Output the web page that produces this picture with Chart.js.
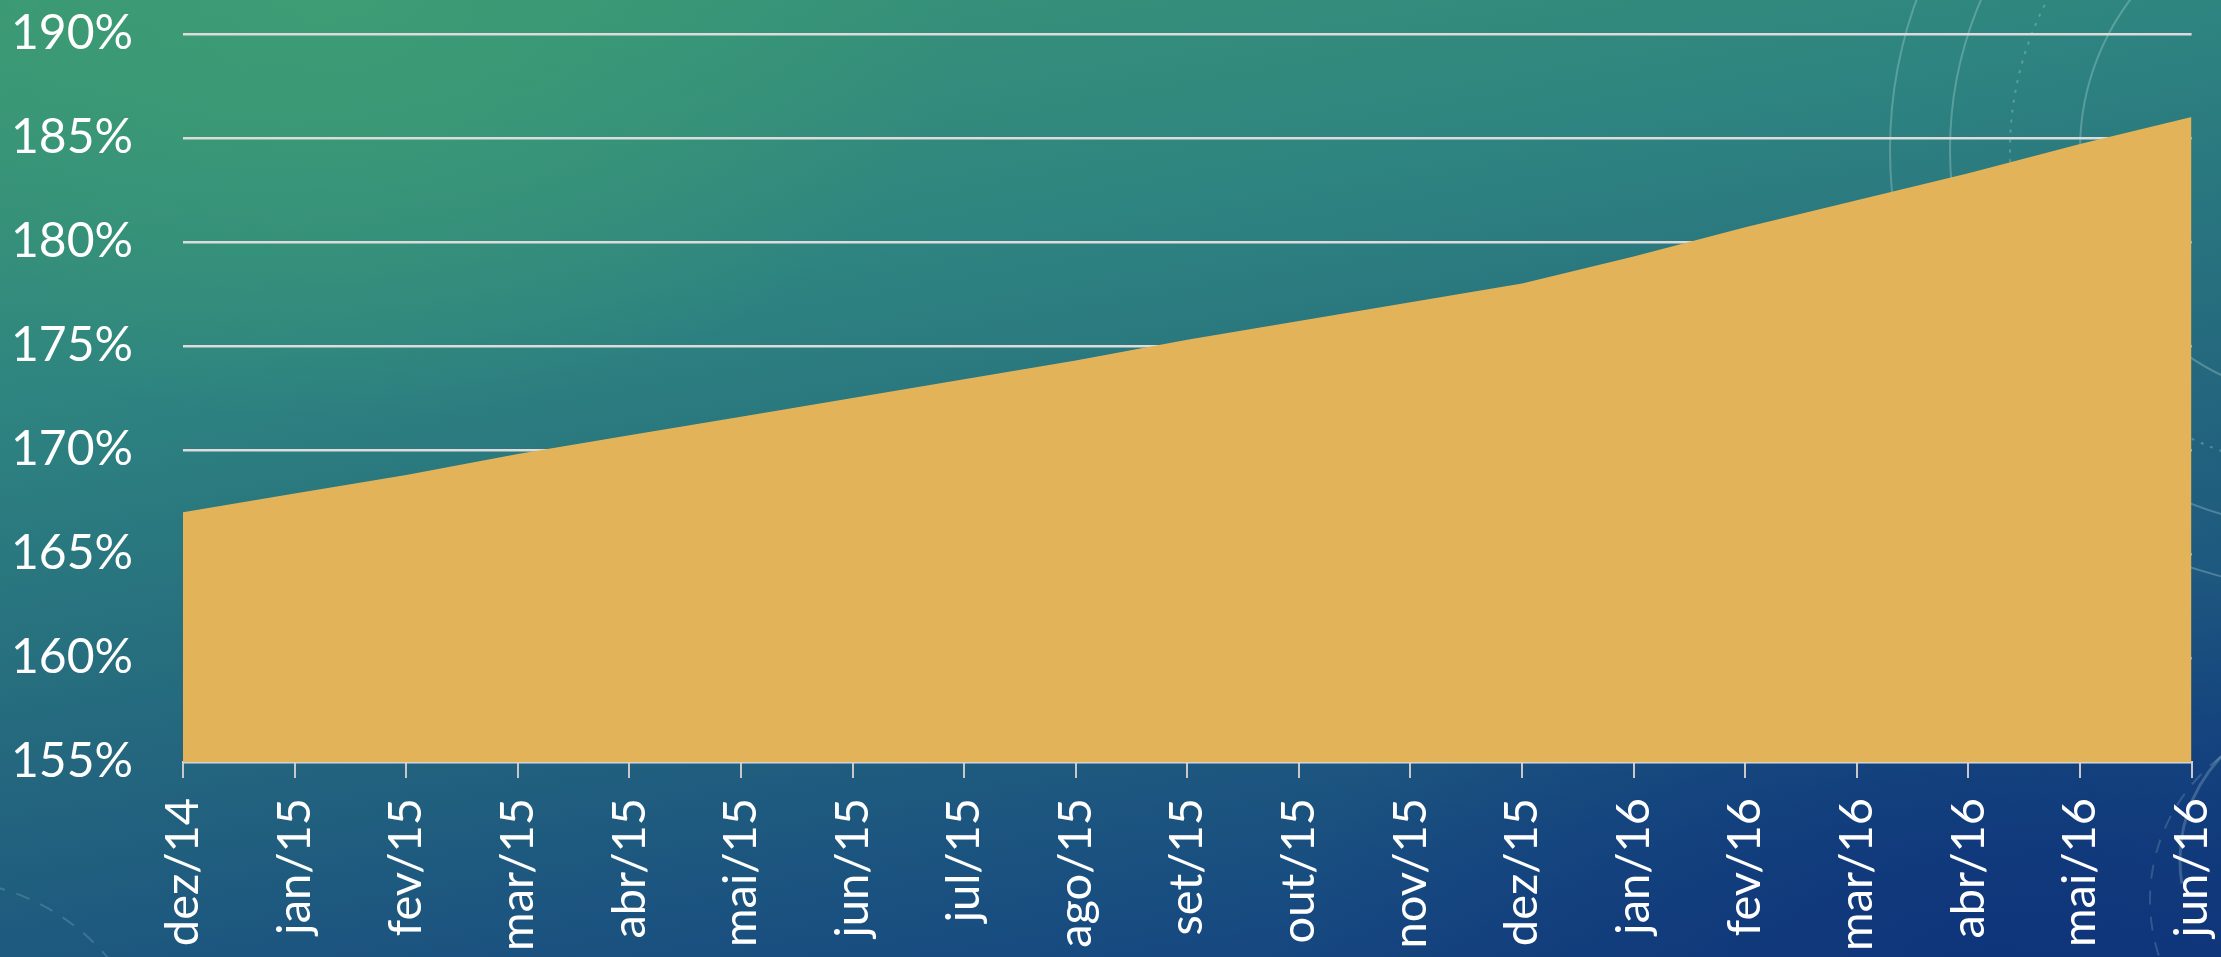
<!DOCTYPE html>
<html>
<head>
<meta charset="utf-8">
<script src="https://cdn.jsdelivr.net/npm/chart.js@4/dist/chart.umd.min.js"></script>
<style>
  html, body { margin: 0; padding: 0; width: 2221px; height: 957px; overflow: hidden; }
  body {
    position: relative;
    background:
      radial-gradient(ellipse 900px 600px at 15% 0%, rgba(62,158,116,0.85), rgba(62,158,116,0) 70%),
      radial-gradient(ellipse 900px 500px at 90% 100%, rgba(14,52,122,0.9), rgba(14,52,122,0) 80%),
      linear-gradient(170deg, #3a9874 0%, #2e8480 30%, #23647e 60%, #174a80 85%, #12397a 100%);
  }
  /* the canvas overhangs the top and right edges so the plot fills the page */
  #wrap { position: absolute; left: 0; top: -45px; width: 2268px; height: 1002px; }
</style>
</head>
<body>
<div id="wrap"><canvas id="c"></canvas></div>
<script>
// Monthly cumulative index, dez/14 to jun/16
const months = ['dez/14','jan/15','fev/15','mar/15','abr/15','mai/15','jun/15','jul/15','ago/15',
                'set/15','out/15','nov/15','dez/15','jan/16','fev/16','mar/16','abr/16','mai/16','jun/16'];
const indexValues = [167.0, 167.9, 168.8, 169.8, 170.7, 171.6, 172.5, 173.4, 174.3,
                     175.3, 176.2, 177.1, 178.0, 179.3, 180.7, 182.0, 183.3, 184.7, 186.0];
const yTicks = [155, 160, 165, 170, 175, 180, 185, 190];

const FONT = 'Lato, "Open Sans", sans-serif';

// faint instrument-style arcs in the upper right of the backdrop (page coordinates)
const arcsPlugin = {
  id: 'arcs',
  beforeDraw(chart) {
    const ctx = chart.ctx;
    ctx.save();
    ctx.translate(0, 45);
    ctx.strokeStyle = 'rgba(210,235,235,0.28)';
    ctx.lineWidth = 2;
    const cx = 2330, cy = 150;
    [440, 380, 250].forEach(r => {
      ctx.beginPath(); ctx.arc(cx, cy, r, Math.PI * 0.5, Math.PI * 1.5); ctx.stroke();
    });
    ctx.setLineDash([3, 7]);
    ctx.beginPath(); ctx.arc(cx, cy, 320, Math.PI * 0.5, Math.PI * 1.5); ctx.stroke();
    ctx.setLineDash([14, 12]);
    ctx.strokeStyle = 'rgba(210,235,235,0.18)';
    ctx.beginPath(); ctx.arc(2330, 900, 180, Math.PI * 0.9, Math.PI * 1.6); ctx.stroke();
    ctx.beginPath(); ctx.arc(-60, 1100, 220, Math.PI * 1.5, Math.PI * 1.95); ctx.stroke();
    ctx.setLineDash([]);
    ctx.lineWidth = 3;
    ctx.strokeStyle = 'rgba(210,235,235,0.22)';
    ctx.beginPath(); ctx.arc(2330, 860, 150, Math.PI * 0.95, Math.PI * 1.5); ctx.stroke();
    ctx.restore();
  }
};

new Chart(document.getElementById('c'), {
  type: 'line',
  data: {
    labels: months,
    datasets: [{
      data: indexValues,
      fill: 'start',
      backgroundColor: '#E3B35A',
      borderWidth: 0,
      borderColor: 'rgba(0,0,0,0)',
      pointRadius: 0,
      tension: 0
    }]
  },
  options: {
    responsive: true,
    maintainAspectRatio: false,
    animation: false,
    layout: { padding: 0 },
    plugins: { legend: { display: false }, tooltip: { enabled: false } },
    scales: {
      x: {
        offset: false,
        grid: { drawOnChartArea: false, drawTicks: true, tickLength: 16, color: '#c8c8c8', lineWidth: 2 },
        border: { display: true, color: '#d4d4d4', width: 2 },
        ticks: {
          autoSkip: false, minRotation: 90, maxRotation: 90, padding: 20,
          color: '#ffffff', font: { family: FONT, size: 47 }
        },
        afterFit(scale) { scale.height = 195; }
      },
      y: {
        min: 155, max: 190,
        afterBuildTicks(scale) { scale.ticks = yTicks.map(v => ({ value: v })); },
        grid: { color: '#dcdcdc', lineWidth: 2.5, drawTicks: false },
        border: { display: false },
        ticks: {
          padding: 50, color: '#ffffff', font: { family: FONT, size: 48 },
          callback: v => v + '%'
        },
        afterFit(scale) { scale.width = 183; }
      }
    }
  },
  plugins: [arcsPlugin]
});
</script>
</body>
</html>
